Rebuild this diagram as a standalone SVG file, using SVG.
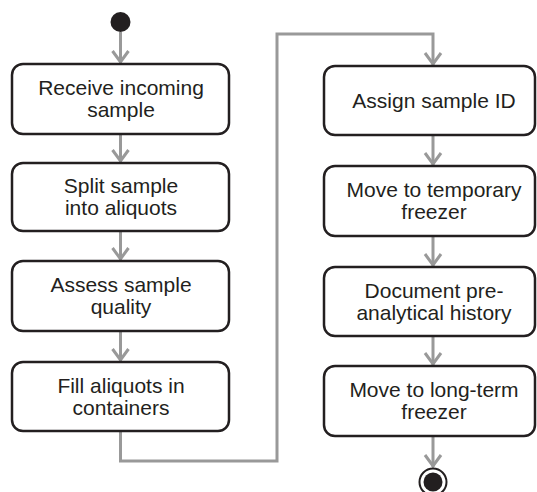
<svg xmlns="http://www.w3.org/2000/svg" width="537" height="492" viewBox="0 0 537 492">
<style>
.box{fill:#fff;stroke:#231f20;stroke-width:2.5}
.lbl{font-family:"Liberation Sans",Arial,sans-serif;font-size:21px;fill:#231f20;text-anchor:middle}
.con{fill:none;stroke:#999;stroke-width:3}
</style>
<defs>
<marker id="ah" markerUnits="userSpaceOnUse" markerWidth="20" markerHeight="20" refX="0" refY="0" orient="auto" overflow="visible">
<path d="M-12,-8 L-1,0 L-12,8" fill="none" stroke="#999" stroke-width="3"/>
</marker>
</defs>
<g id="connectors">
<path class="con" d="M120.5,32 V63" marker-end="url(#ah)"/>
<path class="con" d="M120.5,134 V162" marker-end="url(#ah)"/>
<path class="con" d="M120.5,231 V260" marker-end="url(#ah)"/>
<path class="con" d="M120.5,331 V361" marker-end="url(#ah)"/>
<path class="con" d="M120.5,431 V461 H277 V34 H433 V65" marker-end="url(#ah)"/>
<path class="con" d="M433,135 V165" marker-end="url(#ah)"/>
<path class="con" d="M433,236 V266" marker-end="url(#ah)"/>
<path class="con" d="M433,336 V365" marker-end="url(#ah)"/>
<path class="con" d="M433,436 V467" marker-end="url(#ah)"/>
</g>
<g id="start"><circle cx="120.5" cy="22" r="10" fill="#231f20"/></g>
<g id="n1"><rect class="box" x="12" y="64" width="217" height="70" rx="11"/>
<text class="lbl" x="121" y="95">Receive incoming</text><text class="lbl" x="121" y="117">sample</text></g>
<g id="n2"><rect class="box" x="12" y="163" width="217" height="68" rx="11"/>
<text class="lbl" x="121" y="193">Split sample</text><text class="lbl" x="121" y="215">into aliquots</text></g>
<g id="n3"><rect class="box" x="12" y="261" width="217" height="70" rx="11"/>
<text class="lbl" x="121" y="292">Assess sample</text><text class="lbl" x="121" y="314">quality</text></g>
<g id="n4"><rect class="box" x="12" y="362" width="217" height="69" rx="11"/>
<text class="lbl" x="121" y="392.5">Fill aliquots in</text><text class="lbl" x="121" y="414.5">containers</text></g>
<g id="n5"><rect class="box" x="324" y="66" width="211" height="69" rx="11"/>
<text class="lbl" x="434" y="108">Assign sample ID</text></g>
<g id="n6"><rect class="box" x="324" y="166" width="211" height="70" rx="11"/>
<text class="lbl" x="434" y="197">Move to temporary</text><text class="lbl" x="434" y="219">freezer</text></g>
<g id="n7"><rect class="box" x="324" y="267" width="211" height="69" rx="11"/>
<text class="lbl" x="434" y="297.5">Document pre-</text><text class="lbl" x="434" y="319.5">analytical history</text></g>
<g id="n8"><rect class="box" x="324" y="366" width="211" height="70" rx="11"/>
<text class="lbl" x="434" y="397">Move to long-term</text><text class="lbl" x="434" y="419">freezer</text></g>
<g id="end"><circle cx="433" cy="482" r="13.5" fill="#fff" stroke="#231f20" stroke-width="2"/><circle cx="433" cy="482" r="9.5" fill="#231f20"/></g>
</svg>
